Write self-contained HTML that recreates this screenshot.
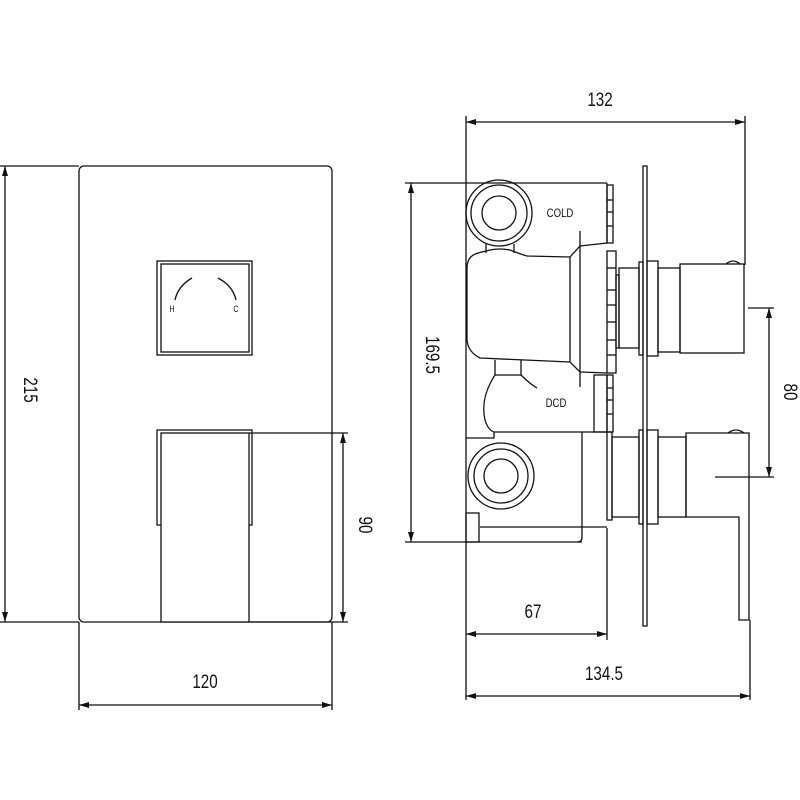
<!DOCTYPE html>
<html><head><meta charset="utf-8"><style>
html,body{margin:0;padding:0;background:#fff;}
svg{display:block;}
text{font-family:"Liberation Sans",sans-serif;fill:#111;}
</style></head><body>
<svg width="800" height="800" viewBox="0 0 800 800" xmlns="http://www.w3.org/2000/svg">
<defs>
<marker id="a" viewBox="0 0 10 6" refX="10" refY="3" markerWidth="10" markerHeight="6" orient="auto-start-reverse" markerUnits="userSpaceOnUse"><path d="M0,0 L10,3 L0,6 z" fill="#111"/></marker>
</defs>
<g fill="none" stroke="#111" stroke-width="1.3">
<!-- LEFT VIEW -->
<rect x="79" y="166" width="253" height="456" rx="5"/>
<line x1="0" y1="166" x2="79" y2="166"/>
<line x1="0" y1="622" x2="79" y2="622"/>
<line x1="5" y1="166" x2="5" y2="622" marker-start="url(#a)" marker-end="url(#a)"/>
<rect x="157" y="261" width="95" height="94"/>
<rect x="161" y="264" width="88" height="88"/>
<path d="M192,278 Q178,286 175,300"/>
<path d="M218,278 Q233,286 236,300"/>
<rect x="157" y="430" width="95" height="95"/>
<rect x="161" y="433" width="88" height="189" fill="#fff"/>
<line x1="249" y1="433" x2="348" y2="433"/>
<line x1="249" y1="622" x2="348" y2="622"/>
<line x1="343" y1="433" x2="343" y2="622" marker-start="url(#a)" marker-end="url(#a)"/>
<line x1="79" y1="622" x2="79" y2="710"/>
<line x1="332" y1="622" x2="332" y2="710"/>
<line x1="79" y1="705" x2="332" y2="705" marker-start="url(#a)" marker-end="url(#a)"/>

<!-- RIGHT VIEW dims -->
<line x1="466" y1="116" x2="466" y2="700"/>
<line x1="745" y1="116" x2="745" y2="265"/>
<line x1="466" y1="122" x2="745" y2="122" marker-start="url(#a)" marker-end="url(#a)"/>
<line x1="405" y1="183" x2="607" y2="183"/>
<line x1="405" y1="542" x2="582" y2="542"/>
<line x1="411" y1="183" x2="411" y2="542" marker-start="url(#a)" marker-end="url(#a)"/>
<line x1="607" y1="528" x2="607" y2="640"/>
<line x1="466" y1="634" x2="607" y2="634" marker-start="url(#a)" marker-end="url(#a)"/>
<line x1="750" y1="620" x2="750" y2="700"/>
<line x1="466" y1="696" x2="750" y2="696" marker-start="url(#a)" marker-end="url(#a)"/>
<line x1="748" y1="308" x2="774" y2="308"/>
<line x1="715" y1="477" x2="774" y2="477"/>
<line x1="769" y1="308" x2="769" y2="477" marker-start="url(#a)" marker-end="url(#a)"/>

<!-- body upper -->
<line x1="607" y1="183" x2="607" y2="243"/>
<rect x="607" y="185" width="6" height="58"/>
<line x1="607" y1="200" x2="613" y2="200"/><line x1="607" y1="212" x2="613" y2="212"/><line x1="607" y1="226" x2="613" y2="226"/>
<circle cx="499" cy="213" r="33"/>
<circle cx="499" cy="213" r="28"/>
<circle cx="499" cy="213" r="17"/>
<path d="M486,244 L486,253 M514,244 L514,253"/>
<path d="M607,243 L580,246 L570,257 L527,256 Q520,254 510,250 Q500,248 490,250 L478,253 Q467,256 467,268 L467,340 Q468,352 480,358 L570,362 L580,372 L607,373"/>
<line x1="570" y1="257" x2="570" y2="362"/>
<line x1="580" y1="231" x2="580" y2="387"/>
<rect x="607" y="251" width="9" height="122"/>
<line x1="607" y1="268" x2="616" y2="268"/><line x1="607" y1="290" x2="616" y2="290"/><line x1="607" y1="305" x2="616" y2="305"/><line x1="607" y1="322" x2="616" y2="322"/><line x1="607" y1="340" x2="616" y2="340"/><line x1="607" y1="355" x2="616" y2="355"/>
<rect x="616" y="275" width="3" height="73"/>
<rect x="619" y="268" width="20" height="80"/>
<rect x="639" y="262" width="4" height="93"/>
<rect x="643" y="166" width="4" height="460"/>
<rect x="647" y="261" width="11" height="95"/>
<rect x="658" y="268" width="22" height="84"/>
<rect x="680" y="264" width="64" height="89"/>
<path d="M726,264 Q733,258 740,264"/>
<!-- neck & DCD -->
<path d="M495,360 L495,375 L521,375 L521,360"/>
<path d="M521,375 Q530,384 537,388"/>
<path d="M495,375 Q480,398 485,420 Q488,430 494,432"/>
<rect x="594" y="375" width="13" height="57"/>
<rect x="607" y="375" width="6" height="57"/>
<line x1="607" y1="388" x2="613" y2="388"/><line x1="607" y1="400" x2="613" y2="400"/><line x1="607" y1="414" x2="613" y2="414"/>
<!-- body lower -->
<path d="M466,438 L494,438 L494,432 L607,432"/>
<path d="M582,432 L582,537 Q582,542 577,542"/>
<line x1="480" y1="527" x2="607" y2="527"/>
<rect x="466" y="513" width="13" height="29"/>
<circle cx="501" cy="476" r="33"/>
<circle cx="501" cy="476" r="27"/>
<circle cx="501" cy="476" r="17"/>
<rect x="607" y="432" width="5" height="88"/>
<rect x="612" y="437" width="27" height="80"/>
<rect x="639" y="430" width="4" height="94"/>
<rect x="647" y="430" width="11" height="94"/>
<rect x="658" y="437" width="28" height="80"/>
<path d="M686,433 L749,433 L749,620 L739,620 L739,517 L686,517 Z"/>
<path d="M728,433 Q736,427 744,433"/>
</g>
<g>
<text x="600" y="106" font-size="19" text-anchor="middle" transform="translate(600 0) scale(0.8 1) translate(-600 0)">132</text>
<text x="205" y="688" font-size="19" text-anchor="middle" transform="translate(205 0) scale(0.8 1) translate(-205 0)">120</text>
<text x="533" y="618" font-size="19" text-anchor="middle" transform="translate(533 0) scale(0.8 1) translate(-533 0)">67</text>
<text x="604" y="680" font-size="19" text-anchor="middle" transform="translate(604 0) scale(0.8 1) translate(-604 0)">134.5</text>
<text font-size="19" text-anchor="middle" transform="translate(24 390) rotate(90) scale(0.8 1)">215</text>
<text font-size="19" text-anchor="middle" transform="translate(359 525) rotate(90) scale(0.8 1)">90</text>
<text font-size="19" text-anchor="middle" transform="translate(426 355) rotate(90) scale(0.8 1)">169.5</text>
<text font-size="19" text-anchor="middle" transform="translate(784 392) rotate(90) scale(0.8 1)">80</text>
<text font-size="12" text-anchor="middle" transform="translate(560 217) scale(0.8 1)">COLD</text>
<text font-size="12" text-anchor="middle" transform="translate(556 407) scale(0.8 1)">DCD</text>
<text font-size="9" text-anchor="middle" transform="translate(172 312) scale(0.8 1)">H</text>
<text font-size="9" text-anchor="middle" transform="translate(236 312) scale(0.8 1)">C</text>
</g>
</svg>
</body></html>
